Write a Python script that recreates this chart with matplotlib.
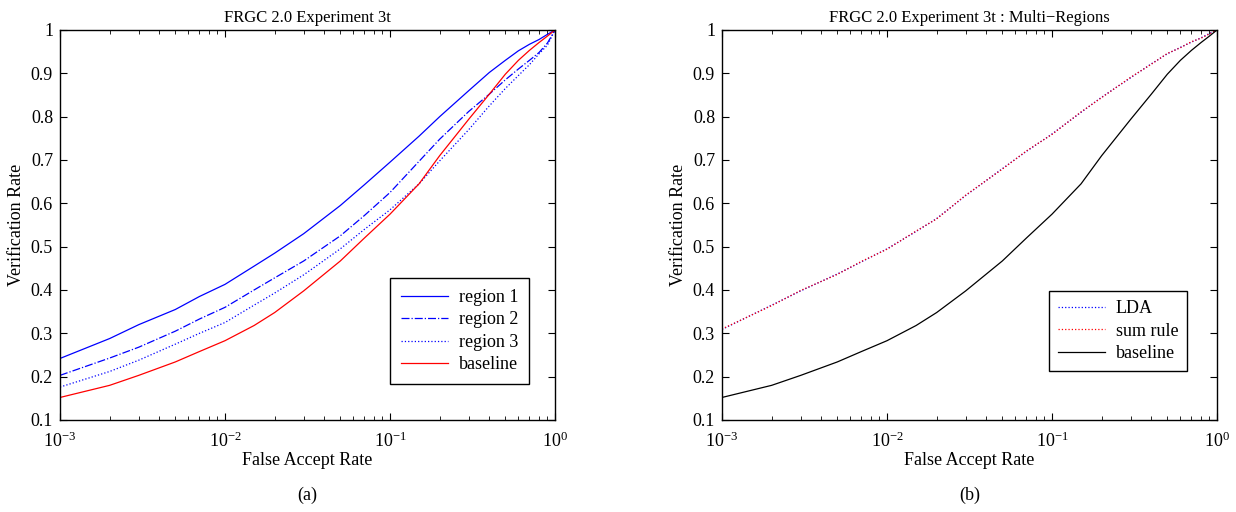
import numpy as np
import matplotlib
matplotlib.use("Agg")
import matplotlib.pyplot as plt

plt.rcParams['font.family'] = ['Liberation Serif', 'DejaVu Serif']
plt.rcParams['mathtext.fontset'] = 'custom'
plt.rcParams['mathtext.rm'] = 'Liberation Serif'
plt.rcParams['mathtext.it'] = 'Liberation Serif:italic'

# false accept rate grid
far = [0.001, 0.002, 0.003, 0.005, 0.007, 0.01, 0.015, 0.02, 0.03, 0.05, 0.07,
       0.1, 0.15, 0.2, 0.3, 0.4, 0.5, 0.6, 0.7, 0.8, 0.9, 1.0]

region1 = [0.242, 0.288, 0.320, 0.355, 0.385, 0.413, 0.455, 0.485, 0.530, 0.595, 0.643,
           0.695, 0.755, 0.800, 0.860, 0.902, 0.930, 0.952, 0.967, 0.978, 0.990, 1.0]
region2 = [0.203, 0.243, 0.268, 0.305, 0.333, 0.360, 0.400, 0.428, 0.467, 0.525, 0.572,
           0.625, 0.697, 0.748, 0.812, 0.852, 0.885, 0.910, 0.930, 0.948, 0.970, 1.0]
region3 = [0.176, 0.212, 0.238, 0.275, 0.300, 0.325, 0.365, 0.393, 0.435, 0.495, 0.540,
           0.585, 0.645, 0.698, 0.770, 0.825, 0.865, 0.895, 0.920, 0.945, 0.965, 1.0]
baseline = [0.152, 0.180, 0.203, 0.234, 0.258, 0.283, 0.318, 0.348, 0.398, 0.467, 0.520,
            0.575, 0.645, 0.710, 0.794, 0.852, 0.898, 0.930, 0.953, 0.971, 0.986, 1.0]
lda = [0.309, 0.365, 0.398, 0.437, 0.465, 0.495, 0.535, 0.565, 0.618, 0.680, 0.720,
       0.760, 0.810, 0.845, 0.890, 0.922, 0.945, 0.960, 0.972, 0.982, 0.992, 1.0]
sumrule = [0.310, 0.364, 0.399, 0.436, 0.466, 0.494, 0.536, 0.564, 0.619, 0.679, 0.721,
           0.759, 0.811, 0.844, 0.891, 0.921, 0.946, 0.959, 0.973, 0.981, 0.991, 1.0]

yticks = [0.1, 0.2, 0.3, 0.4, 0.5, 0.6, 0.7, 0.8, 0.9, 1.0]
ylabels = ['0.1', '0.2', '0.3', '0.4', '0.5', '0.6', '0.7', '0.8', '0.9', '1']

fs = 13

fig = plt.figure(figsize=(12.36, 5.12), dpi=100)
ax1 = fig.add_axes([60/1236, 92/512, 495/1236, 390/512])
ax2 = fig.add_axes([722/1236, 92/512, 495/1236, 390/512])


def style(ax, title):
    ax.set_xscale('log')
    ax.set_xlim(1e-3, 1)
    ax.set_ylim(0.1, 1)
    ax.set_yticks(yticks)
    ax.set_yticklabels(ylabels)
    ax.tick_params(which='both', direction='in', top=True, right=True, labelsize=fs)
    ax.tick_params(axis='x', which='both', pad=8)
    ax.tick_params(axis='y', which='both', pad=5)
    ax.tick_params(which='major', length=5)
    ax.tick_params(which='minor', length=3)
    for s in ax.spines.values():
        s.set_linewidth(1.0)
    ax.set_title(title, fontsize=12, pad=6)
    ax.set_xlabel('False Accept Rate', fontsize=fs, labelpad=1)
    ax.set_ylabel('Verification Rate', fontsize=fs, labelpad=4)


ax1.plot(far, region1, '-', color='blue', lw=0.9, label='region 1')
ax1.plot(far, region2, '-.', color='blue', lw=0.9, label='region 2')
ax1.plot(far, region3, ':', color='blue', lw=0.9, label='region 3')
ax1.plot(far, baseline, '-', color='red', lw=0.9, label='baseline')
style(ax1, 'FRGC 2.0 Experiment 3t')
leg = ax1.legend(loc='lower right', bbox_to_anchor=(0.948, 0.092), fontsize=fs, fancybox=False,
                 edgecolor='black', framealpha=1, handlelength=2.6, borderpad=0.6,
                 labelspacing=0.3, handletextpad=0.6, borderaxespad=0)
leg.get_frame().set_linewidth(1.0)

ax2.plot(far, lda, ':', color='blue', lw=0.9, label='LDA')
ax2.plot(far, sumrule, ':', color='red', lw=0.9, label='sum rule')
ax2.plot(far, baseline, '-', color='black', lw=0.9, label='baseline')
style(ax2, 'FRGC 2.0 Experiment 3t : Multi\u2212Regions')
leg = ax2.legend(loc='lower right', bbox_to_anchor=(0.94, 0.125), fontsize=fs, fancybox=False,
                 edgecolor='black', framealpha=1, handlelength=2.6, borderpad=0.5,
                 labelspacing=0.3, handletextpad=0.6, borderaxespad=0)
leg.get_frame().set_linewidth(1.0)

fig.text((60 + 247.5)/1236, 1 - 495/512, '(a)', ha='center', va='center', fontsize=fs)
fig.text((722 + 247.5)/1236, 1 - 495/512, '(b)', ha='center', va='center', fontsize=fs)

fig.savefig('out.png', dpi=100)
